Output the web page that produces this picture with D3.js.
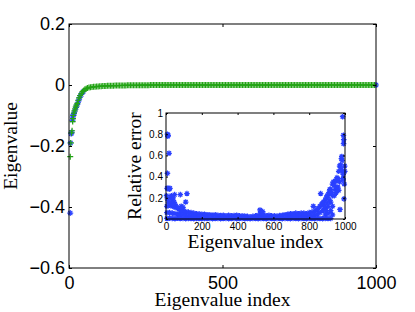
<!DOCTYPE html>
<html>
<head>
<meta charset="utf-8">
<script src="https://cdn.jsdelivr.net/npm/d3@7"></script>
<style>
  body { margin: 0; background: #fff; }
  svg { display: block; }
</style>
</head>
<body>
<div id="chart"></div>
<script>
// exact eigenvalues (green +), sampled along the index
const eigIndex = [
  4, 6, 8, 10, 12, 13, 14, 16, 18, 20, 22, 24, 27, 30, 33, 36, 40, 44, 48, 52, 56,
  60, 65, 70, 75, 80, 85, 90, 95, 100, 105, 110, 115, 120, 125, 130, 135, 140, 145, 150,
  155, 160, 165, 170, 175, 180, 185, 190, 195, 200, 205, 210, 215, 220, 225, 230, 235, 240,
  245, 250, 255, 260, 265, 270,
  275, 280, 285, 290, 295, 300, 305, 310, 315, 320, 325, 330, 335, 340, 345,
  350, 355, 360, 365, 370, 375, 380, 385, 390, 395, 400, 405, 410, 415, 420,
  425, 430, 435, 440, 445, 450, 455, 460, 465, 470, 475, 480, 485, 490, 495,
  500, 505, 510, 515, 520, 525, 530, 535, 540, 545, 550, 555, 560, 565, 570,
  575, 580, 585, 590, 595, 600, 605, 610, 615, 620, 625, 630, 635, 640, 645,
  650, 655, 660, 665, 670, 675, 680, 685, 690, 695, 700, 705, 710, 715, 720,
  725, 730, 735, 740, 745, 750, 755, 760, 765, 770, 775, 780, 785, 790, 795,
  800, 805, 810, 815, 820, 825, 830, 835, 840, 845, 850, 855, 860, 865, 870,
  875, 880, 885, 890, 895, 900, 905, 910, 915, 920, 925, 930, 935, 940, 945,
  950, 955, 960, 965, 970, 975, 980, 985, 990, 995
];
const eigExact = [
  -0.235, -0.19, -0.157, -0.15, -0.12, -0.11, -0.1, -0.092, -0.085, -0.078, -0.072,
  -0.066, -0.06, -0.05, -0.042, -0.035, -0.028, -0.022, -0.018, -0.014, -0.012,
  -0.010, -0.0085, -0.0075, -0.0068, -0.006, -0.0055, -0.005, -0.0046, -0.0042, -0.0038,
  -0.0035, -0.0032, -0.003, -0.0028, -0.0026, -0.0024, -0.0022, -0.0021, -0.002, -0.0019,
  -0.0018, -0.0017, -0.0016, -0.0015, -0.0014, -0.0013, -0.0012, -0.0012, -0.0011, -0.001,
  -0.001, -0.0009, -0.0009, -0.0008, -0.0008, -0.0007, -0.0007, -0.0006, -0.0006, -0.0005,
  -0.0005, -0.0004, -0.0004,
  0, 0, 0, 0, 0, 0, 0, 0, 0, 0, 0, 0, 0, 0, 0,
  0, 0, 0, 0, 0, 0, 0, 0, 0, 0, 0, 0, 0, 0, 0,
  0, 0, 0, 0, 0, 0, 0, 0, 0, 0, 0, 0, 0, 0, 0,
  0, 0, 0, 0, 0, 0, 0, 0, 0, 0, 0, 0, 0, 0, 0,
  0, 0, 0, 0, 0, 0, 0, 0, 0, 0, 0, 0, 0, 0, 0,
  0, 0, 0, 0, 0, 0, 0, 0, 0, 0, 0, 0, 0, 0, 0,
  0, 0, 0, 0, 0, 0, 0, 0, 0, 0, 0, 0, 0, 0, 0,
  0, 0, 0, 0, 0, 0, 0, 0, 0, 0, 0, 0, 0, 0, 0,
  0, 0, 0, 0, 0, 0, 0, 0, 0, 0, 0, 0, 0, 0, 0,
  0, 0, 0, 0, 0, 0, 0, 0, 0, 0
];

// approximated eigenvalues (blue *), where they show past the green markers
const approxIndex  = [4, 5, 7, 9, 11, 12, 14, 16, 19, 23, 27, 31, 35, 40, 46, 1000];
const approxValues = [-0.42, -0.19, -0.16, -0.155, -0.115, -0.105, -0.098, -0.094,
  -0.085, -0.074, -0.064, -0.052, -0.041, -0.031, -0.022, 0];

// relative error (inset), [index, error]
const relErrBand = [
  [5, 0.12], [5, 0.06], [5, 0.005], [20, 0.13], [20, 0.06], [20, 0.008],
  [35, 0.12], [35, 0.055], [35, 0.006], [50, 0.11], [50, 0.05], [50, 0.004],
  [65, 0.1], [65, 0.045], [65, 0.007], [80, 0.08], [80, 0.04], [80, 0.005],
  [95, 0.08], [95, 0.04], [95, 0.006], [110, 0.07], [110, 0.035], [110, 0.004],
  [125, 0.065], [125, 0.03], [125, 0.006], [140, 0.06], [140, 0.03], [140, 0.005],
  [155, 0.055], [155, 0.025], [155, 0.004], [170, 0.05], [170, 0.025], [170, 0.006],
  [185, 0.048], [185, 0.02], [185, 0.005], [200, 0.045], [200, 0.02], [200, 0.004],
  [215, 0.045], [215, 0.02], [215, 0.006], [230, 0.04], [230, 0.005],
  [245, 0.04], [245, 0.006], [260, 0.035], [260, 0.004], [275, 0.04], [275, 0.005],
  [290, 0.035], [290, 0.006], [305, 0.032], [305, 0.004], [320, 0.035], [320, 0.005],
  [335, 0.03], [335, 0.006], [350, 0.035], [350, 0.004], [365, 0.03], [365, 0.005],
  [380, 0.033], [380, 0.006], [395, 0.035], [395, 0.004], [410, 0.03], [410, 0.005],
  [425, 0.03], [425, 0.006], [440, 0.028], [440, 0.004], [455, 0.025], [455, 0.005],
  [470, 0.02], [470, 0.004], [485, 0.025], [485, 0.006], [500, 0.03], [500, 0.005],
  [515, 0.035], [515, 0.004], [530, 0.06], [530, 0.03], [530, 0.006],
  [545, 0.04], [545, 0.005], [560, 0.03], [560, 0.004], [575, 0.035], [575, 0.006],
  [590, 0.03], [590, 0.005], [605, 0.03], [605, 0.004], [620, 0.028], [620, 0.006],
  [635, 0.032], [635, 0.005], [650, 0.035], [650, 0.004], [665, 0.04], [665, 0.006],
  [680, 0.045], [680, 0.02], [680, 0.005], [695, 0.05], [695, 0.025], [695, 0.004],
  [710, 0.05], [710, 0.025], [710, 0.006], [725, 0.055], [725, 0.025], [725, 0.005],
  [740, 0.05], [740, 0.025], [740, 0.004], [755, 0.055], [755, 0.025], [755, 0.006],
  [770, 0.055], [770, 0.025], [770, 0.005], [785, 0.05], [785, 0.025], [785, 0.004],
  [800, 0.06], [800, 0.03], [800, 0.006], [815, 0.065], [815, 0.03], [815, 0.005],
  [830, 0.075], [830, 0.035], [830, 0.004], [845, 0.09], [845, 0.045], [845, 0.006],
  [860, 0.12], [860, 0.06], [860, 0.005], [875, 0.15], [875, 0.08], [875, 0.004],
  [890, 0.18], [890, 0.1], [890, 0.04], [890, 0.006], [905, 0.22], [905, 0.12],
  [905, 0.05], [905, 0.005], [920, 0.28], [920, 0.16], [920, 0.08], [920, 0.006],
  [930, 0.33], [930, 0.22], [930, 0.12], [930, 0.04]
];
const relErrOutliers = [
  [8, 0.8], [10, 0.78], [12, 0.79], [17, 0.62], [8, 0.43], [6, 0.29], [12, 0.29],
  [18, 0.28], [22, 0.29], [3, 0.22], [8, 0.19], [14, 0.16], [25, 0.2], [30, 0.22],
  [35, 0.18], [40, 0.2], [45, 0.16], [48, 0.23], [50, 0.14], [55, 0.12], [30, 0.15],
  [40, 0.13], [60, 0.11], [80, 0.23], [117, 0.24], [110, 0.16], [85, 0.12], [95, 0.11],
  [525, 0.085], [540, 0.07], [823, 0.12], [850, 0.1], [864, 0.24], [870, 0.14],
  [880, 0.16], [885, 0.12], [895, 0.2], [900, 0.22], [900, 0.15], [895, 0.08],
  [910, 0.25], [915, 0.28], [912, 0.18], [925, 0.25], [935, 0.35], [940, 0.32],
  [945, 0.28], [950, 0.25], [955, 0.3], [940, 0.22], [945, 0.36], [950, 0.36],
  [955, 0.39], [960, 0.3], [965, 0.27], [970, 0.35], [960, 0.38], [965, 0.45],
  [970, 0.5], [975, 0.51], [978, 0.47], [980, 0.57], [982, 0.59], [984, 0.55],
  [986, 0.45], [988, 0.38], [990, 0.37], [990, 0.42], [991, 0.79], [992, 0.71],
  [993, 0.75], [987, 0.965], [994, 0.19], [972, 0.09], [996, 0.33], [998, 0.5],
  [999, 0.45]
];

const mainXTicks = [0, 500, 1000];
const mainYTicks = [0.2, 0, -0.2, -0.4, -0.6];
const insetXTicks = [0, 200, 400, 600, 800, 1000];
const insetYTicks = [0, 0.2, 0.4, 0.6, 0.8, 1];

const BLUE = '#2a40ff';
const GREEN = '#22a314';
const SANS = '"Liberation Sans", Arial, sans-serif';
const SERIF = '"Liberation Serif", "Times New Roman", serif';

function plusPath(r) { return `M${-r},0H${r}M0,${-r}V${r}`; }
function starPath(r) {
  const d = r * 0.7071;
  return plusPath(r) + `M${-d},${-d}L${d},${d}M${-d},${d}L${d},${-d}`;
}
const fmtNum = d => (d < 0 ? '\u2212' : '') + d3.format('~g')(Math.abs(d));

function drawMarkers(g, pts, x, y, path, color, sw) {
  g.append('g')
    .selectAll('path')
    .data(pts)
    .join('path')
    .attr('transform', d => `translate(${x(d[0])},${y(d[1])})`)
    .attr('d', path)
    .attr('fill', 'none')
    .attr('stroke', color)
    .attr('stroke-width', sw);
}

function styleAxis(sel, size) {
  sel.select('.domain').remove();
  sel.selectAll('line').attr('stroke', '#000');
  sel.selectAll('text').attr('fill', '#000').attr('font-family', SANS).attr('font-size', size);
}

function boxAxes(svg, x, y, tick, pad, fontSize, xTicks, yTicks, xFmt, yFmt) {
  const [x0, x1] = x.range(), [y0, y1] = y.range();
  svg.append('g').attr('transform', `translate(0,${y0})`)
    .call(d3.axisBottom(x).tickValues(xTicks).tickSize(-tick).tickSizeOuter(0).tickPadding(pad[0]).tickFormat(xFmt))
    .call(s => styleAxis(s, fontSize));
  svg.append('g').attr('transform', `translate(0,${y1})`)
    .call(d3.axisTop(x).tickValues(xTicks).tickSize(-tick).tickSizeOuter(0).tickFormat(''))
    .call(s => styleAxis(s, fontSize));
  svg.append('g').attr('transform', `translate(${x0},0)`)
    .call(d3.axisLeft(y).tickValues(yTicks).tickSize(-tick).tickSizeOuter(0).tickPadding(pad[1]).tickFormat(yFmt))
    .call(s => styleAxis(s, fontSize));
  svg.append('g').attr('transform', `translate(${x1},0)`)
    .call(d3.axisRight(y).tickValues(yTicks).tickSize(-tick).tickSizeOuter(0).tickFormat(''))
    .call(s => styleAxis(s, fontSize));
  svg.append('rect')
    .attr('x', x0).attr('y', y1).attr('width', x1 - x0).attr('height', y0 - y1)
    .attr('fill', 'none').attr('stroke', '#000').attr('stroke-width', 1);
}

function render() {
  const width = 415, height = 312;
  const svg = d3.select('#chart').append('svg')
    .attr('width', width).attr('height', height)
    .attr('viewBox', `0 0 ${width} ${height}`);

  // main axes
  const x = d3.scaleLinear().domain([0, 1000]).range([69, 376]);
  const y = d3.scaleLinear().domain([-0.6, 0.2]).range([268, 24]);

  const exact = eigIndex.map((d, i) => [d, eigExact[i]]);
  const approx = approxIndex.map((d, i) => [d, approxValues[i]]);

  drawMarkers(svg, approx, x, y, starPath(3), BLUE, 1.1);
  drawMarkers(svg, exact, x, y, plusPath(3), GREEN, 1.2);

  boxAxes(svg, x, y, 3, [8, 4], 18, mainXTicks, mainYTicks, d3.format('d'), fmtNum);

  svg.append('text')
    .attr('x', (69 + 376) / 2).attr('y', 306)
    .attr('text-anchor', 'middle')
    .attr('font-family', SERIF).attr('font-size', 19.5)
    .text('Eigenvalue index');
  svg.append('text')
    .attr('transform', `translate(17,${(24 + 268) / 2}) rotate(-90)`)
    .attr('text-anchor', 'middle')
    .attr('font-family', SERIF).attr('font-size', 19.5)
    .text('Eigenvalue');

  // inset
  const ix = d3.scaleLinear().domain([0, 1000]).range([166, 345]);
  const iy = d3.scaleLinear().domain([0, 1]).range([219, 113]);

  svg.append('rect')
    .attr('x', 166).attr('y', 113).attr('width', 345 - 166).attr('height', 219 - 113)
    .attr('fill', '#fff');

  drawMarkers(svg, relErrBand.concat(relErrOutliers), ix, iy, starPath(2.8), BLUE, 1.25);

  boxAxes(svg, ix, iy, 2, [4, 3], 10, insetXTicks, insetYTicks, d3.format('d'), d3.format('~g'));

  svg.append('text')
    .attr('x', (166 + 345) / 2).attr('y', 248)
    .attr('text-anchor', 'middle')
    .attr('font-family', SERIF).attr('font-size', 19.5)
    .text('Eigenvalue index');
  svg.append('text')
    .attr('transform', `translate(141,${(113 + 219) / 2}) rotate(-90)`)
    .attr('text-anchor', 'middle')
    .attr('font-family', SERIF).attr('font-size', 19.5)
    .text('Relative error');
}

render();
</script>
</body>
</html>
